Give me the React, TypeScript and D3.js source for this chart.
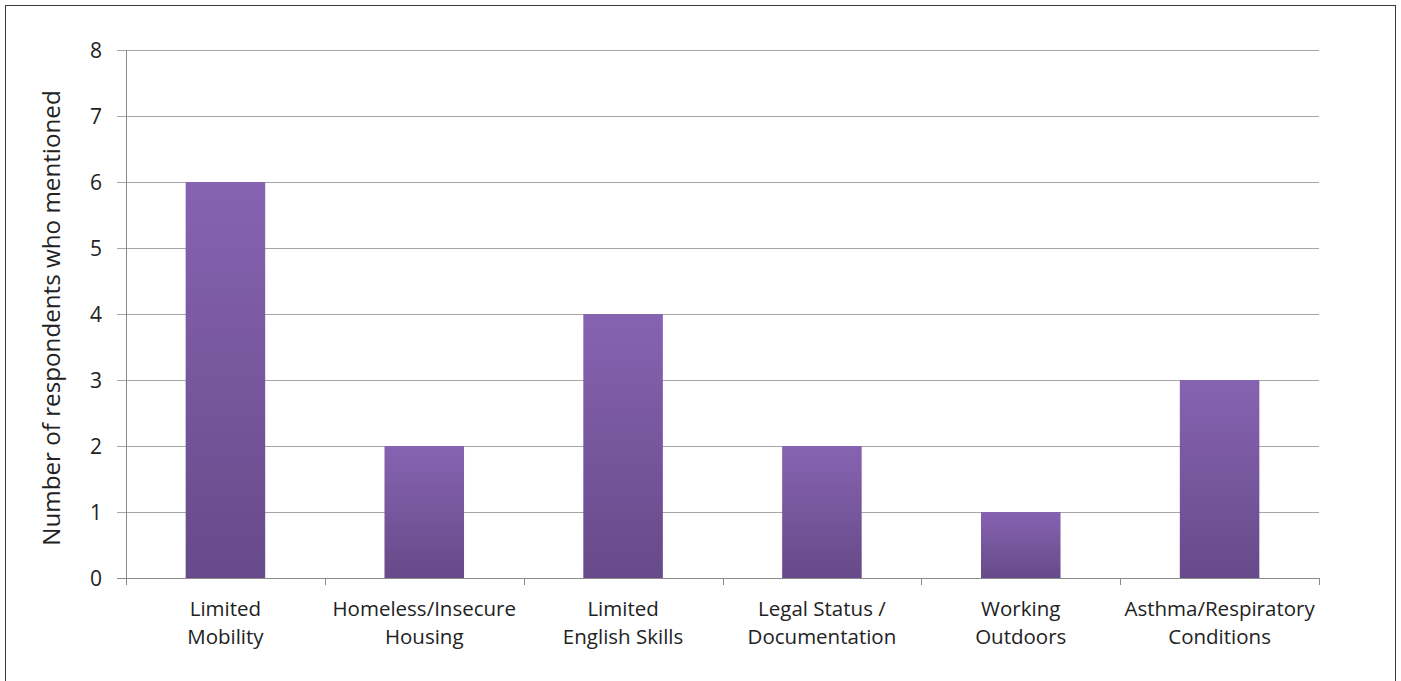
import React from "react";
import * as d3 from "d3";

const categories = [
  ["Limited", "Mobility"],
  ["Homeless/Insecure", "Housing"],
  ["Limited", "English Skills"],
  ["Legal Status /", "Documentation"],
  ["Working", "Outdoors"],
  ["Asthma/Respiratory", "Conditions"],
];
const values = [6, 2, 4, 2, 1, 3];
const yTicks = [0, 1, 2, 3, 4, 5, 6, 7, 8];
const yTitle = "Number of respondents who mentioned";

export default function App() {
  const W = 1401, H = 681;
  const left = 126, right = 1319, top = 50, bottom = 578;
  const idx = categories.map((_, i) => i);
  const x = d3.scaleBand<number>().domain(idx).range([left, right]).paddingInner(0.6).paddingOuter(0.3);
  const xOuter = d3.scaleBand<number>().domain(idx).range([left, right]);
  const y = d3.scaleLinear().domain([0, 8]).range([bottom, top]);
  const font = "'Open Sans', 'Liberation Sans', sans-serif";
  return (
    <div style={{ position: "absolute", left: 0, top: 0 }}>
      <svg width={W} height={H} style={{ display: "block" }}>
        <defs>
          <linearGradient id="barGrad" x1="0" y1="0" x2="0" y2="1">
            <stop offset="0" stopColor="#8663B1" />
            <stop offset="1" stopColor="#674A89" />
          </linearGradient>
        </defs>
        <rect x={0} y={0} width={W} height={H} fill="#fff" />
        <rect x={5.5} y={5.5} width={1390} height={700} fill="none" stroke="#3a3a3a" strokeWidth={1} />
        {yTicks.map((t) => (
          <g key={t}>
            <line x1={117} x2={right} y1={Math.round(y(t)) + 0.5} y2={Math.round(y(t)) + 0.5} stroke={t === 0 ? "#8a8a8a" : "#a6a6a6"} />
            <text x={102} y={y(t)} dy="0.36em" textAnchor="end" fontFamily={font} fontSize={21} fill="#222">{t}</text>
          </g>
        ))}
        <line x1={left + 0.5} x2={left + 0.5} y1={top} y2={bottom} stroke="#8a8a8a" />
        {idx.concat([idx.length]).map((i) => {
          const xx = i < idx.length ? xOuter(i)! : right;
          return <line key={"t" + i} x1={Math.round(xx) + 0.5} x2={Math.round(xx) + 0.5} y1={bottom} y2={bottom + 7} stroke="#8a8a8a" />;
        })}
        {values.map((v, i) => (
          <rect key={i} x={x(i)!} y={y(v)} width={x.bandwidth()} height={bottom - y(v)} fill="url(#barGrad)" />
        ))}
        {categories.map((lines, i) => (
          <text key={i} textAnchor="middle" fontFamily={font} fontSize={20.5} fill="#222">
            {lines.map((l, j) => (
              <tspan key={j} x={x(i)! + x.bandwidth() / 2} y={616 + j * 28}>{l}</tspan>
            ))}
          </text>
        ))}
        <text transform={`translate(60, ${318}) rotate(-90)`} textAnchor="middle" fontFamily={font} fontSize={24.2} fill="#222">{yTitle}</text>
      </svg>
    </div>
  );
}
